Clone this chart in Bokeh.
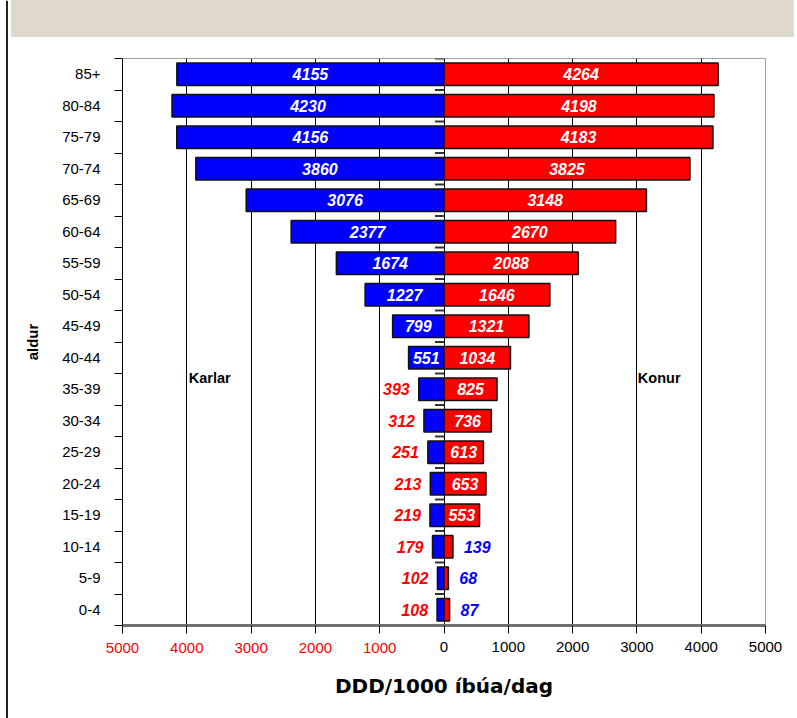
from bokeh.plotting import figure
from bokeh.models import ColumnDataSource, Range1d, FixedTicker, LinearAxis, Div
from bokeh.layouts import row, column
from bokeh.embed import file_html
from bokeh.resources import INLINE
from bokeh.core.properties import value

# Age groups, bottom to top
ages = ["0-4", "5-9", "10-14", "15-19", "20-24", "25-29", "30-34", "35-39",
        "40-44", "45-49", "50-54", "55-59", "60-64", "65-69", "70-74",
        "75-79", "80-84", "85+"]
# DDD/1000 inhabitants/day
karlar = [108, 102, 179, 219, 213, 251, 312, 393, 551, 799, 1227, 1674,
          2377, 3076, 3860, 4156, 4230, 4155]
konur = [87, 68, 139, 553, 653, 613, 736, 825, 1034, 1321, 1646, 2088,
         2670, 3148, 3825, 4183, 4198, 4264]

x_ticks = [-5000, -4000, -3000, -2000, -1000, 0, 1000, 2000, 3000, 4000, 5000]
x_tick_labels = ["5000", "4000", "3000", "2000", "1000", "0",
                 "1000", "2000", "3000", "4000", "5000"]

BLUE = "#0000FF"
RED = "#FF0000"
ARIAL = "Liberation Sans"
INSIDE_MIN = 500  # bars at least this long carry their label inside

# ---- thin dark rule along the left edge of the page
strip = figure(width=8, height=718, x_range=Range1d(0, 8), y_range=Range1d(0, 718),
               x_axis_type=None, y_axis_type=None, toolbar_location=None,
               output_backend="svg", min_border=0)
strip.outline_line_color = None
strip.grid.visible = False
strip.quad(left=5.5, right=7.5, bottom=0, top=718, fill_color="#222222", line_color=None)

# ---- beige header band
banner = Div(text="", width=783, height=37, margin=(0, 3, 1, 3),
             styles={"background-color": "#DED8CD"})

# ---- population pyramid
idx = list(range(len(ages)))
bars = ColumnDataSource(dict(
    y=idx,
    karlar_left=[-v for v in karlar],
    konur_right=konur,
))

p = figure(width=789, height=680, x_range=Range1d(-5000, 5000), y_range=Range1d(-0.5, 17.5),
           toolbar_location=None, output_backend="svg",
           min_border_left=114, min_border_right=32, min_border_top=20, min_border_bottom=93)
p.background_fill_color = "white"
p.border_fill_color = "white"
p.outline_line_color = "#A0A0A0"
p.outline_line_width = 1

# vertical gridlines
p.xgrid.ticker = FixedTicker(ticks=x_ticks[1:-1])
p.xgrid.grid_line_color = "black"
p.xgrid.grid_line_width = 1
p.ygrid.visible = False

p.hbar(y="y", left="karlar_left", right=0, height=0.71, source=bars,
       fill_color=BLUE, line_color="#111111", line_width=1.5)
p.hbar(y="y", left=0, right="konur_right", height=0.71, source=bars,
       fill_color=RED, line_color="#111111", line_width=1.5)

# short tick marks of the centre axis, at the category boundaries
bounds = [k - 0.5 for k in range(len(ages) + 1)]
p.segment(x0=[-140] * len(bounds), x1=[0] * len(bounds), y0=bounds, y1=bounds,
          line_color="#333333", line_width=2)

# value labels
lab_font = dict(text_font=value(ARIAL), text_font_size="16px",
                text_font_style="bold italic", text_baseline="middle")


def pick(vals, inside, pos):
    keep = [(i, v) for i, v in zip(idx, vals) if (v >= INSIDE_MIN) == inside]
    return ColumnDataSource(dict(x=[pos(v) for _, v in keep],
                                 y=[i for i, _ in keep],
                                 t=[str(v) for _, v in keep]))


in_k = pick(karlar, True, lambda v: -v / 2)
in_w = pick(konur, True, lambda v: v / 2)
out_k = pick(karlar, False, lambda v: -v)
out_w = pick(konur, False, lambda v: v)

p.text(x="x", y="y", text="t", source=in_k, text_color="white", text_align="center", **lab_font)
p.text(x="x", y="y", text="t", source=in_w, text_color="white", text_align="center", **lab_font)
p.text(x="x", y="y", text="t", source=out_k, text_color=RED, text_align="right",
       x_offset=-9, **lab_font)
p.text(x="x", y="y", text="t", source=out_w, text_color=BLUE, text_align="left",
       x_offset=11, **lab_font)

# side captions
side_font = dict(text_font=value(ARIAL), text_font_size="14.5px", text_font_style="bold",
                 text_baseline="middle", text_align="left", text_color="black")
p.text(x=[-3970], y=[7.35], text=["Karlar"], **side_font)
p.text(x=[3015], y=[7.35], text=["Konur"], **side_font)

# y axis: labels at category centres, ticks at the boundaries
yax = p.yaxis[0]
yax.ticker = FixedTicker(ticks=idx, minor_ticks=bounds)
yax.major_label_overrides = {i: a for i, a in zip(idx, ages)}
yax.major_tick_out = 0
yax.major_tick_in = 0
yax.minor_tick_out = 8
yax.minor_tick_in = 0
yax.minor_tick_line_color = "black"
yax.axis_line_color = "black"
yax.major_label_text_font = ARIAL
yax.major_label_text_font_size = "15px"
yax.major_label_text_color = "black"
yax.major_label_standoff = 14
yax.axis_label = "aldur"
yax.axis_label_text_font = ARIAL
yax.axis_label_text_font_size = "15px"
yax.axis_label_text_font_style = "bold"
yax.axis_label_text_color = "black"
yax.axis_label_standoff = 18

# x axis: right half (black labels), ticks everywhere
xax = p.xaxis[0]
xax.ticker = FixedTicker(ticks=x_ticks)
xax.major_label_overrides = {t: (lab if t >= 0 else "") for t, lab in zip(x_ticks, x_tick_labels)}
xax.major_tick_out = 8
xax.major_tick_in = 0
xax.major_tick_line_color = "black"
xax.minor_tick_line_color = None
xax.axis_line_color = "#707070"
xax.axis_line_width = 3
xax.major_label_text_font = ARIAL
xax.major_label_text_font_size = "15px"
xax.major_label_text_color = "black"
xax.major_label_standoff = 8

# second axis carrying the red magnitudes of the left half, on the same row
neg_ticks = [t for t in x_ticks if t < 0]
xneg = LinearAxis(ticker=FixedTicker(ticks=neg_ticks),
                  major_label_overrides={t: lab for t, lab in zip(x_ticks, x_tick_labels) if t < 0},
                  axis_line_color=None, major_tick_line_color=None, minor_tick_line_color=None,
                  major_tick_out=0, major_tick_in=0,
                  major_label_text_font=ARIAL, major_label_text_font_size="15px",
                  major_label_text_color=RED, major_label_standoff=-12)
xneg.axis_label = "DDD/1000 íbúa/dag"
xneg.axis_label_text_font = "DejaVu Sans"
xneg.axis_label_text_font_size = "20px"
xneg.axis_label_text_font_style = "bold"
xneg.axis_label_text_color = "black"
xneg.axis_label_standoff = 18
p.add_layout(xneg, "below")

layout = row(strip, column(banner, p))
open("out.html", "w").write(file_html(layout, INLINE))
